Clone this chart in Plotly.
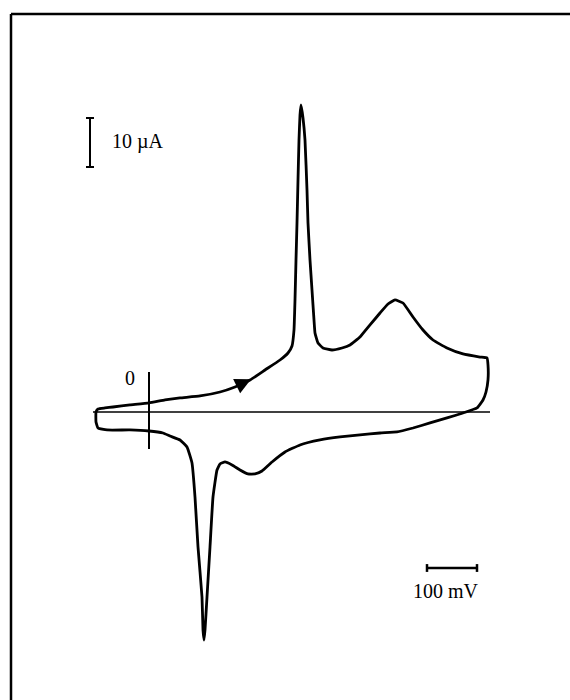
import plotly.graph_objects as go

# Cyclic voltammogram: potential E (mV, relative to marker "0"), current I (µA)
E_mV = [-106, -102, -88, -72, -38, 0, 32, 62, 102, 142, 172, 202, 232, 262, 278, 286,
        290, 292, 294, 296, 298, 300, 302, 304, 308, 312, 316, 318, 322, 326, 330, 332,
        338, 348, 366, 386, 402, 422, 442, 462, 478, 492, 508, 528, 548, 568, 596, 628,
        662, 676, 678, 678, 674, 668, 656, 628, 596, 562, 528, 496, 462, 422, 382, 342,
        302, 272, 246, 226, 212, 198, 182, 166, 152, 142, 136, 128, 122, 116, 112, 110,
        108, 106, 98, 92, 86, 76, 62, 42, 28, 0, -38, -84, -102, -106, -106]
I_uA = [0.0, 0.61, 0.82, 1.02, 1.43, 1.84, 2.45, 2.86, 3.27, 4.08, 5.10, 6.53, 8.57, 10.61, 12.04, 13.47,
        16.73, 22.86, 31.02, 38.57, 47.35, 55.51, 60.61, 62.65, 60.0, 55.51, 45.31, 38.57, 31.02, 24.90, 18.78, 16.12,
        14.08, 13.06, 12.65, 13.06, 13.67, 15.31, 17.76, 20.20, 22.04, 22.86, 22.24, 19.39, 16.73, 14.69, 13.06, 11.84,
        11.22, 11.02, 9.59, 6.53, 4.08, 2.45, 0.82, -0.20, -1.22, -2.24, -3.27, -4.08, -4.29, -4.69, -5.10, -5.71,
        -6.73, -8.16, -10.20, -12.04, -12.65, -12.65, -11.84, -10.82, -10.20, -10.61, -11.84, -17.35, -27.55, -37.76, -44.49, -46.53,
        -44.49, -37.76, -27.55, -17.35, -10.41, -7.14, -5.71, -4.90, -4.29, -3.88, -3.67, -3.67, -3.27, -2.04, 0.0]

baseline_E = [-112, 682]
zero_marker_I = [-7.55, 8.16]
scale_I = [50, 60]          # 10 µA scale bar
scale_I_x = -118
scale_E = [556, 656]        # 100 mV scale bar
scale_E_y = -31.84

fig = go.Figure()
fig.add_trace(go.Scatter(x=E_mV, y=I_uA, mode="lines",
                         line=dict(color="black", width=2.8, shape="spline", smoothing=0.35),
                         hoverinfo="skip"))
# baseline (I = 0)
fig.add_trace(go.Scatter(x=baseline_E, y=[0, 0], mode="lines",
                         line=dict(color="black", width=1.5), hoverinfo="skip"))
# vertical zero marker (E = 0)
fig.add_trace(go.Scatter(x=[0, 0], y=zero_marker_I, mode="lines",
                         line=dict(color="black", width=2), hoverinfo="skip"))
# 10 µA scale bar
fig.add_trace(go.Scatter(x=[scale_I_x, scale_I_x], y=scale_I, mode="lines",
                         line=dict(color="black", width=2), hoverinfo="skip"))
for yv in scale_I:
    fig.add_trace(go.Scatter(x=[scale_I_x - 8, scale_I_x + 8], y=[yv, yv], mode="lines",
                             line=dict(color="black", width=2), hoverinfo="skip"))
# 100 mV scale bar
fig.add_trace(go.Scatter(x=scale_E, y=[scale_E_y, scale_E_y], mode="lines",
                         line=dict(color="black", width=2.5), hoverinfo="skip"))
for xv in scale_E:
    fig.add_trace(go.Scatter(x=[xv, xv], y=[scale_E_y - 0.8, scale_E_y + 0.8], mode="lines",
                             line=dict(color="black", width=2.5), hoverinfo="skip"))

font = dict(family="Liberation Serif, Times New Roman, serif", size=20, color="black")
fig.add_annotation(x=-78, y=55.3, text="10 µA", showarrow=False, xanchor="left", yanchor="middle", font=font)
fig.add_annotation(x=-38, y=6.94, text="0", showarrow=False, xanchor="center", yanchor="middle", font=font)
fig.add_annotation(x=594, y=-36.5, text="100 mV", showarrow=False, xanchor="center", yanchor="middle", font=font)
# direction arrow
fig.add_annotation(x=204, y=6.7, ax=172, ay=5.1, axref="x", ayref="y", xref="x", yref="y",
                   text="", showarrow=True, arrowhead=2, arrowsize=1.6, arrowwidth=2, arrowcolor="black")

# frame
fig.add_shape(type="line", xref="paper", yref="paper", x0=11/570, x1=11/570, y0=-0.01, y1=1-14/700,
              line=dict(color="black", width=2.5))
fig.add_shape(type="line", xref="paper", yref="paper", x0=11/570, x1=1.01, y0=1-14/700, y1=1-14/700,
              line=dict(color="black", width=2.5))

fig.update_layout(width=570, height=700, margin=dict(l=0, r=0, t=0, b=0),
                  paper_bgcolor="white", plot_bgcolor="white", showlegend=False,
                  xaxis=dict(range=[-298, 842], visible=False, fixedrange=True),
                  yaxis=dict(range=[-58.78, 84.08], visible=False, fixedrange=True))
fig.write_html("out.html")
